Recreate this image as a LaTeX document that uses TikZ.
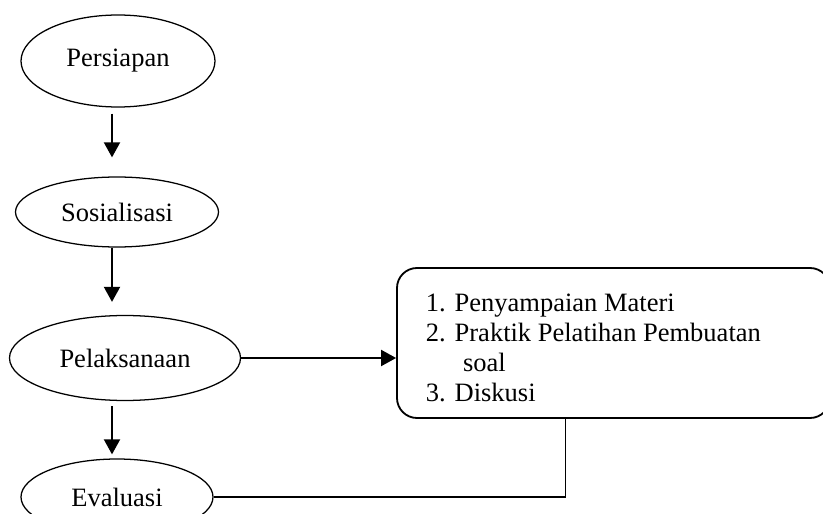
\documentclass[tikz,border=0pt]{standalone}
\usepackage{fontspec}
\setmainfont{Liberation Serif}
\usepackage{tikz}
\usetikzlibrary{arrows.meta, shapes.geometric, calc}

\begin{document}
\begin{tikzpicture}[>={Triangle[length=0.375cm, width=0.4cm]},
                    every node/.style={font=\fontsize{18.85}{21.34}\selectfont},
                    line width=1.4pt]
\tikzstyle{stage}=[ellipse, draw=black, line width=0.9pt, inner sep=0pt]
\tikzstyle{listbox}=[rectangle, draw=black, line width=1.3pt, rounded corners=0.5cm]
  \useasboundingbox (0,0) rectangle (20.575,-12.85);
  \coordinate (spine) at (2.8,0);
  \node[stage, minimum width=4.85cm, minimum height=2.3cm] (persiapan) at (2.95,-1.525) {Persiapan};
  \node[stage, minimum width=5.075cm, minimum height=1.75cm] (sosial) at (2.925,-5.3) {Sosialisasi};
  \node[stage, minimum width=5.775cm, minimum height=2.125cm] (pelak) at (3.125,-8.95) {Pelaksanaan};
  \node[stage, minimum width=4.8cm, minimum height=1.9cm] (eval) at (2.925,-12.425) {Evaluasi};
  \node[listbox, minimum width=10.825cm, minimum height=3.75cm] (box) at (15.3375,-8.575) {};
  \node[anchor=north west, align=left, inner sep=0pt] (items) at (10.625,-7.325)
    {1. Penyampaian Materi\\2. Praktik Pelatihan Pembuatan\\\hspace*{1.4em}soal\\3. Diskusi};
  \path[->] (persiapan.south -| spine) edge[shorten <=0.15cm, shorten >=0.475cm] (sosial.north -| spine);
  \path[->] (sosial.south -| spine) edge[shorten >=0.325cm] (pelak.north -| spine);
  \path[->] (pelak.south -| spine) edge[shorten <=0.125cm, shorten >=0.1cm] (eval.north -| spine);
  \path[->] (pelak.east) edge (pelak.east -| box.west);
  \draw[line width=0.9pt] (eval.east) -| ($(box.south west)!0.39!(box.south east)$);
\end{tikzpicture}
\end{document}
